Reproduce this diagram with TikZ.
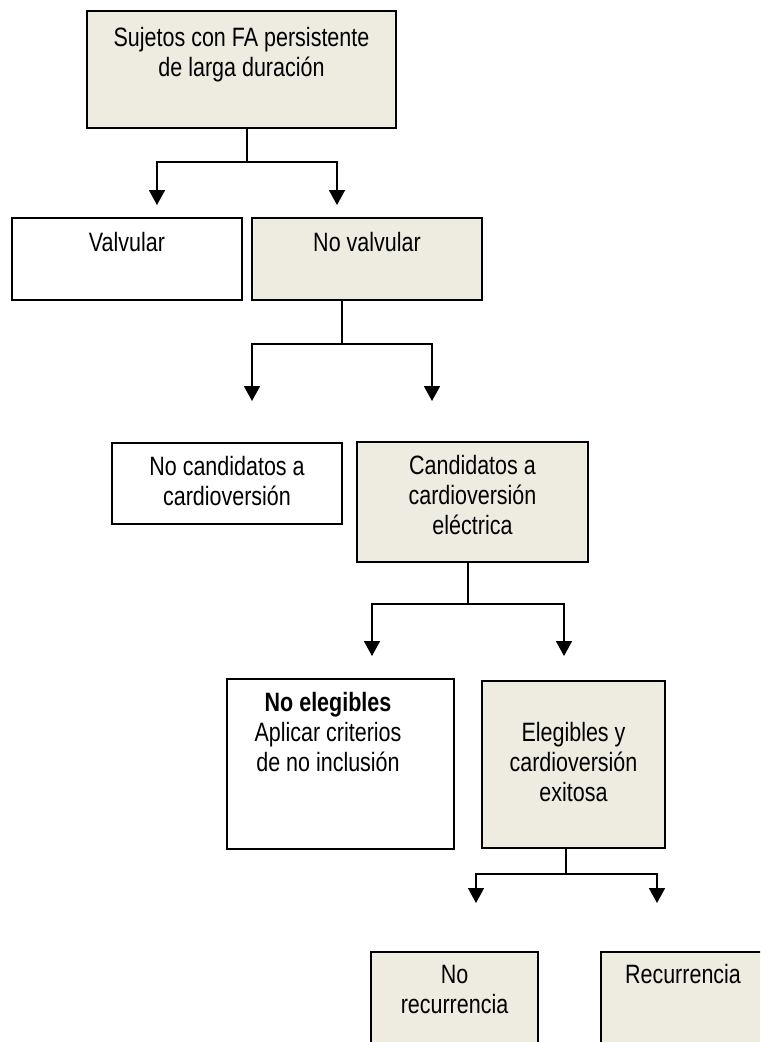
\documentclass[tikz,border=0pt]{standalone}
\usepackage{fontspec}
\setmainfont{Liberation Sans}[FakeStretch=0.81]
\usepackage{tikz}
\usetikzlibrary{arrows.meta,positioning}
\definecolor{beige}{HTML}{EEECE1}
\tikzset{%
	box/.style    = {draw, rectangle, line width=1pt, inner sep=0pt},
	shaded/.style = {box, fill=beige},
	txt/.style    = {align=center, inner sep=0pt, font=\fontsize{15.1}{17}\selectfont},
	line/.style   = {line width=1pt},
	arrow/.style  = {line width=1pt, -{Triangle[width=0.32cm,length=0.3cm]}},
}

\begin{document}
\begin{tikzpicture}
	\useasboundingbox (0,0) rectangle (15.2,-20.84);
	\clip (0,0) rectangle (15.2,-20.84);

	\node[shaded, minimum width=6.18cm, minimum height=2.34cm] (suj) at (4.83,-1.39) {};
	\node[txt, below=0.34cm of suj.north] (suj-t) {Sujetos con FA persistente\\de larga duración};

	\node[box, minimum width=4.6cm, minimum height=1.64cm] (valv) at (2.54,-5.18) {};
	\node[txt, below=0.29cm of valv.north] (valv-t) {Valvular};
	\node[shaded, minimum width=4.6cm, minimum height=1.64cm] (novalv) at (7.34,-5.18) {};
	\node[txt, below=0.29cm of novalv.north] (novalv-t) {No valvular};

	\node[box, minimum width=4.6cm, minimum height=1.62cm] (nocand) at (4.54,-9.67) {};
	\node[txt, below=0.27cm of nocand.north] (nocand-t) {No candidatos a\\cardioversión};
	\node[shaded, minimum width=4.62cm, minimum height=2.4cm] (cand) at (9.45,-10.04) {};
	\node[txt, below=0.28cm of cand.north] (cand-t) {Candidatos a\\cardioversión\\eléctrica};

	\node[box, minimum width=4.54cm, minimum height=3.4cm] (noeleg) at (6.81,-15.28) {};
	\node[txt, below=0.28cm of noeleg.north, xshift=-0.25cm] (noeleg-t) {\textbf{No elegibles}\\Aplicar criterios\\de no inclusión};
	\node[shaded, minimum width=3.66cm, minimum height=3.34cm] (eleg) at (11.47,-15.29) {};
	\node[txt, below=0.84cm of eleg.north] (eleg-t) {Elegibles y\\cardioversión\\exitosa};

	\node[shaded, minimum width=3.34cm, minimum height=2.2cm] (norec) at (9.09,-20.14) {};
	\node[txt, below=0.28cm of norec.north] (norec-t) {No\\recurrencia};
	\node[shaded, minimum width=3.28cm, minimum height=2.2cm] (rec) at (13.66,-20.14) {};
	\node[txt, below=0.25cm of rec.north] (rec-t) {Recurrencia};

	% ramas
	\foreach \from/\x/\y/\xa/\xb/\yt [count=\i] in {suj/4.94/-3.24/3.14/6.74/-4.10, novalv/6.84/-6.88/5.04/8.64/-8.02, cand/9.36/-12.08/7.44/11.28/-13.12, eleg/11.32/-17.48/9.52/13.14/-18.06} {
		\coordinate (j\i) at (\x,\y);
		\coordinate (a\i) at (\xa,\yt);
		\coordinate (b\i) at (\xb,\yt);
		\draw[line] (\from.south -| j\i) -- (j\i);
		\draw[arrow] (j\i) -| (a\i);
		\draw[arrow] (j\i) -| (b\i);
	}
\end{tikzpicture}
\end{document}
